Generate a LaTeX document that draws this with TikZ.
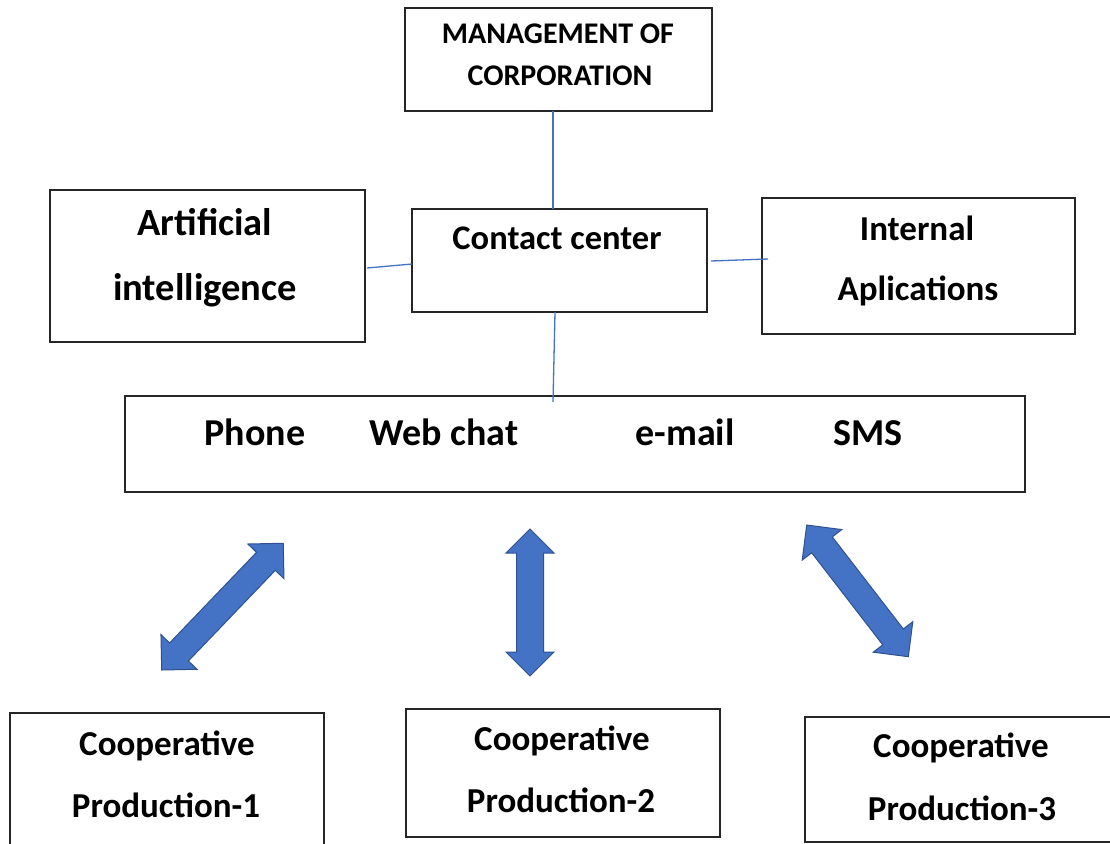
\documentclass[tikz,border=0pt]{standalone}
\usepackage{fontspec}
\setmainfont{Carlito}
\definecolor{linkblue}{HTML}{4472C4}
\definecolor{arrowedge}{HTML}{2F528F}
\definecolor{boxline}{HTML}{262626}
\begin{document}
\begin{tikzpicture}[x=1pt,y=1pt,
  box/.style={draw=boxline, line width=1.6pt, inner sep=0pt, outer sep=0pt},
  lbl/.style={anchor=base, inner sep=0pt, font=\bfseries\fontsize{35}{42}\selectfont},
  lblbig/.style={anchor=base, inner sep=0pt, font=\bfseries\fontsize{38.5}{44}\selectfont},
  lblch/.style={anchor=base, inner sep=0pt, font=\bfseries\fontsize{38}{44}\selectfont},
  lblsmall/.style={anchor=base, inner sep=0pt, font=\bfseries\fontsize{30}{34}\selectfont},
  lblcc/.style={anchor=base, inner sep=0pt, font=\bfseries\fontsize{34.5}{40}\selectfont},
  link/.style={draw=linkblue, line width=1.3pt},
  blockarrow/.style={fill=linkblue, draw=arrowedge, line width=1pt, line join=miter}]
\useasboundingbox (0,0) rectangle (1110,-843);
\clip (0,0) rectangle (1110,-843);
\fill[white] (0,0) rectangle (1110,-843);

% boxes
\node[box, minimum width=307, minimum height=103] (mgmt) at (558.5,-59.5) {};
\node[box, minimum width=315, minimum height=152] (ai) at (207.5,-266) {};
\node[box, minimum width=295, minimum height=103] (cc) at (559.5,-260.5) {};
\node[box, minimum width=313, minimum height=136] (int) at (918.5,-266) {};
\node[box, minimum width=900, minimum height=96] (ch) at (575,-444) {};
\node[box, minimum width=314, minimum height=147] (coopA) at (167,-786.5) {};
\node[box, minimum width=314, minimum height=128] (coopB) at (563,-773) {};
\node[box, minimum width=320, minimum height=125] (coopC) at (965,-779.5) {};

% texts
\node[lblsmall] (tm1) at (558,-44) {MANAGEMENT OF};
\node[lblsmall] (tm2) at (560,-85) {CORPORATION};
\node[lblcc] (tcc) at (557,-249) {Contact center};
\node[lblbig] (tai1) at (205,-235) {Artificial};
\node[lblbig] (tai2) at (205,-300) {intelligence};
\node[lbl] (tin1) at (917,-240) {Internal};
\node[lbl] (tin2) at (918,-300) {Aplications};
\node[lblch] (tph) at (255,-445) {Phone};
\node[lblch] (twc) at (444,-445) {Web chat};
\node[lblch] (tem) at (685,-445) {e-mail};
\node[lblch] (tsms) at (868,-445) {SMS};
\node[lbl] (tc11) at (167,-755) {Cooperative};
\node[lbl] (tc12) at (166,-817) {Production-1};
\node[lbl] (tc21) at (562,-750) {Cooperative};
\node[lbl] (tc22) at (561,-812) {Production-2};
\node[lbl] (tc31) at (961,-757) {Cooperative};
\node[lbl] (tc32) at (962,-820) {Production-3};

% connectors
\draw[link] ([xshift=-5.5]mgmt.south) -- ([xshift=-6.5]cc.north);
\draw[link] ([xshift=-4.5]cc.south) -- ([xshift=-22,yshift=-6]ch.north);
\draw[link] ([xshift=2,yshift=-2]ai.east) -- ([yshift=-3.5]cc.west);
\draw[link] ([xshift=4,yshift=-0.5]cc.east) -- ([xshift=6,yshift=7]int.west);

% block double arrows
\coordinate (a1) at (161.7,-670);
\begin{scope}[shift={(a1)}, rotate=46.2]
\draw[blockarrow] (0,0) -- (25,25) -- (25,13) -- (150.6,13) -- (150.6,25) -- (175.6,0)
  -- (150.6,-25) -- (150.6,-13) -- (25,-13) -- (25,-25) -- cycle;
\end{scope}
\coordinate (a2) at (530,-676);
\begin{scope}[shift={(a2)}, rotate=90]
\draw[blockarrow] (0,0) -- (24,24) -- (24,13.5) -- (123,13.5) -- (123,24) -- (147,0)
  -- (123,-24) -- (123,-13.5) -- (24,-13.5) -- (24,-24) -- cycle;
\end{scope}
\coordinate (a3) at (908.3,-656.7);
\begin{scope}[shift={(a3)}, rotate=127.65]
\draw[blockarrow] (0,0) -- (25,25) -- (25,13) -- (141.3,13) -- (141.3,25) -- (166.3,0)
  -- (141.3,-25) -- (141.3,-13) -- (25,-13) -- (25,-25) -- cycle;
\end{scope}
\end{tikzpicture}
\end{document}
